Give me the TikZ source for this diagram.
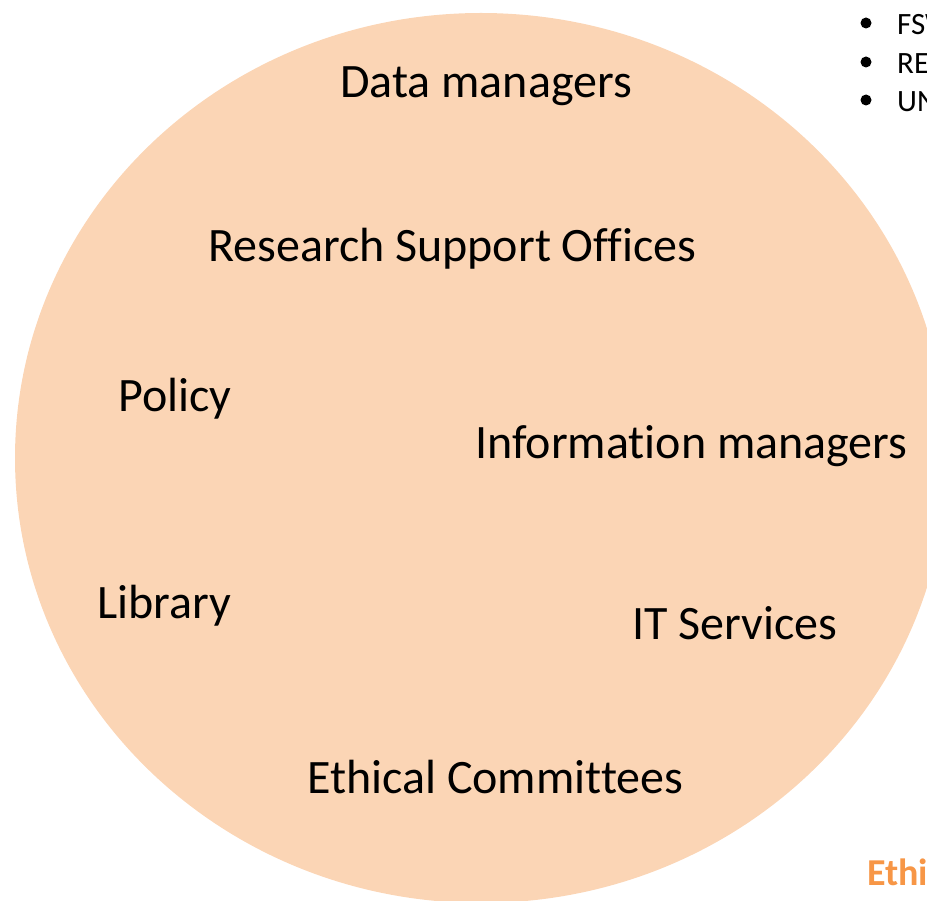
\documentclass[tikz,border=0pt]{standalone}
\usepackage{fontspec}
\setmainfont{Carlito}[Ligatures=NoCommon]
\definecolor{peach}{HTML}{FBD5B5}
\definecolor{ethorange}{HTML}{F79646}
\newcommand {\role}[4] {\node[role] (#1) at (#2,#3) {#4};}
\newcommand {\bulletitem}[3] {\node[dot] (#1dot) at (866,#2) {};
                              \node[note] (#1) at (897,#2+12) {#3};}

\begin{document}
\begin{tikzpicture}[x=1pt,y=-1pt,
	role/.style={anchor=base west,inner sep=0pt,font=\fontsize{48}{52}\selectfont},
	note/.style={anchor=base west,inner sep=0pt,font=\fontsize{31}{34}\selectfont},
	dot/.style={circle,fill=black,inner sep=0pt,minimum size=11pt}]
	\useasboundingbox (0,0) rectangle (927,901);
	\clip (0,0) rectangle (927,901);
	\fill[peach] (481,458) ellipse [x radius=466pt, y radius=445pt];
	\role{data}{340}{98}{Data managers}
	\role{rso}{208}{262}{Research Support Offices}
	\role{policy}{118}{412}{Policy}
	\role{info}{475}{458}{Information managers}
	\role{library}{97}{618}{Library}
	\role{it}{632}{639}{IT Services}
	\role{ethics}{307}{793}{Ethical Committees}
	\bulletitem{fsw}{23}{FSW}
	\bulletitem{re}{62}{RE}
	\bulletitem{un}{100}{UN}
	\node[anchor=base west,inner sep=0pt,text=ethorange,font=\fontsize{38}{40}\selectfont\bfseries] (ethi) at (867,885) {Ethi};
\end{tikzpicture}
\end{document}
